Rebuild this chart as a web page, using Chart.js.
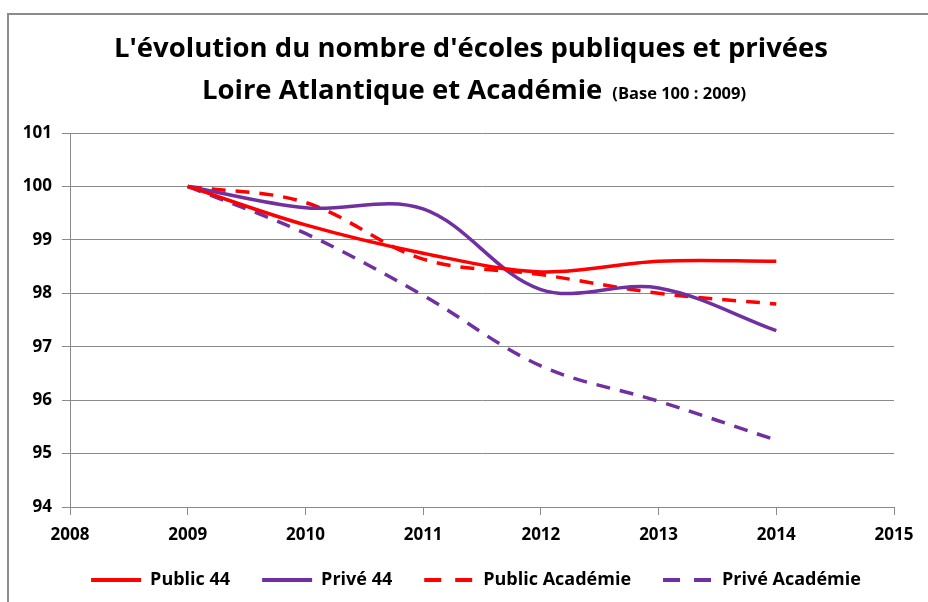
<!DOCTYPE html>
<html>
<head>
<meta charset="utf-8">
<script src="https://cdn.jsdelivr.net/npm/chart.js@4.4.1/dist/chart.umd.min.js"></script>
<style>
  html, body { margin: 0; padding: 0; background: #fff; }
  #wrap { position: relative; width: 928px; height: 602px; }
  #frame { position: absolute; left: 7px; top: 13px; right: -10px; bottom: -10px;
           border-left: 2px solid #8c8c8c; border-top: 2px solid #8c8c8c; pointer-events: none; }
</style>
</head>
<body>
<div id="wrap">
  <canvas id="chart" width="928" height="602"></canvas>
  <div id="frame"></div>
</div>
<script>
// data (base 100 in 2009)
const years = [2009, 2010, 2011, 2012, 2013, 2014];
const public44 = [100, 99.28, 98.75, 98.4, 98.6, 98.6];
const prive44 = [100, 99.6, 99.58, 98.07, 98.1, 97.3];
const publicAcad = [100, 99.7, 98.64, 98.35, 98.0, 97.8];
const priveAcad = [100, 99.12, 97.96, 96.64, 95.98, 95.25];
const yTicks = [94, 95, 96, 97, 98, 99, 100, 101];
const xTicks = [2008, 2009, 2010, 2011, 2012, 2013, 2014, 2015];

const titleLine1 = "L'évolution du nombre d'écoles publiques et privées";
const titleLine2 = 'Loire Atlantique et Académie';
const titleNote = '(Base 100 : 2009)';

const RED = '#ff0000';
const PURPLE = '#7030a0';
const GRID = '#8a8a8a';
const FONT = '"Open Sans", Lato, "DejaVu Sans", sans-serif';

function pts(values) {
    return years.map((yr, i) => ({ x: yr, y: values[i] }));
}

function series(label, values, color, dashed) {
    return {
        label: label,
        data: pts(values),
        borderColor: color,
        backgroundColor: color,
        borderWidth: 3.5,
        borderDash: dashed ? [14, 10] : [],
        pointRadius: 0,
        pointHoverRadius: 0,
        tension: 0.35,
        fill: false
    };
}

// two-line title, second line has a small note after it
const titlePlugin = {
    id: 'twoLineTitle',
    afterDraw(chart) {
        const ctx = chart.ctx;
        ctx.save();
        ctx.fillStyle = '#000';
        ctx.textBaseline = 'alphabetic';
        ctx.font = 'bold 27.5px ' + FONT;
        ctx.textAlign = 'center';
        ctx.fillText(titleLine1, 471, 57, 720);

        ctx.textAlign = 'left';
        const w1 = Math.min(ctx.measureText(titleLine2).width, 402);
        ctx.font = 'bold 16.5px ' + FONT;
        const w2 = Math.min(ctx.measureText(titleNote).width, 143);
        const start = 474 - (w1 + 10 + w2) / 2;
        ctx.font = 'bold 27.5px ' + FONT;
        ctx.fillText(titleLine2, start, 99, 402);
        ctx.font = 'bold 16.5px ' + FONT;
        ctx.fillText(titleNote, start + w1 + 10, 99, 143);
        ctx.restore();
    }
};

// nudge the legend box right and up, like the original
const legendShift = {
    id: 'legendShift',
    afterLayout(chart) {
        const lg = chart.legend;
        lg.left += 25; lg.right += 25;
        lg.top -= 6; lg.bottom -= 6;
    }
};

const ctx = document.getElementById('chart').getContext('2d');
new Chart(ctx, {
    type: 'line',
    data: {
        datasets: [
            series('Public 44', public44, RED, false),
            series('Privé 44', prive44, PURPLE, false),
            series('Public Académie', publicAcad, RED, true),
            series('Privé Académie', priveAcad, PURPLE, true)
        ]
    },
    options: {
        responsive: false,
        animation: false,
        layout: { padding: { top: 133, left: 8, right: 34, bottom: 0 } },
        scales: {
            x: {
                type: 'linear',
                min: xTicks[0],
                max: xTicks[xTicks.length - 1],
                afterBuildTicks(s) { s.ticks = xTicks.map(v => ({ value: v })); },
                afterFit(s) { s.height = 38; },
                grid: { drawOnChartArea: false, drawTicks: true, tickLength: 8, color: GRID },
                border: { display: true, color: GRID, width: 1 },
                ticks: {
                    color: '#000',
                    padding: 12,
                    maxRotation: 0,
                    font: { family: FONT, size: 17, weight: 'bold', lineHeight: 1 },
                    callback: v => String(v)
                }
            },
            y: {
                min: yTicks[0],
                max: yTicks[yTicks.length - 1],
                afterBuildTicks(s) { s.ticks = yTicks.map(v => ({ value: v })); },
                afterFit(s) { s.width = 62; },
                grid: { color: GRID, lineWidth: 1, drawTicks: true, tickLength: 8 },
                border: { display: true, color: GRID, width: 1 },
                ticks: {
                    color: '#000',
                    padding: 10,
                    font: { family: FONT, size: 17, weight: 'bold' },
                    callback: v => String(v)
                }
            }
        },
        plugins: {
            title: { display: false },
            tooltip: { enabled: false },
            legend: {
                position: 'bottom',
                fullSize: true,
                maxHeight: 57,
                labels: {
                    color: '#000',
                    usePointStyle: true,
                    pointStyle: 'line',
                    pointStyleWidth: 50,
                    boxHeight: 4,
                    padding: 32,
                    font: { family: FONT, size: 18, weight: 'bold' },
                    generateLabels(chart) {
                        const items = Chart.defaults.plugins.legend.labels.generateLabels(chart);
                        items.forEach(item => {
                            const ds = chart.data.datasets[item.datasetIndex];
                            item.strokeStyle = ds.borderColor;
                            item.lineWidth = 4;
                            item.lineDash = ds.borderDash.length ? [17, 14] : [];
                        });
                        return items;
                    }
                }
            }
        }
    },
    plugins: [titlePlugin, legendShift]
});
</script>
</body>
</html>
